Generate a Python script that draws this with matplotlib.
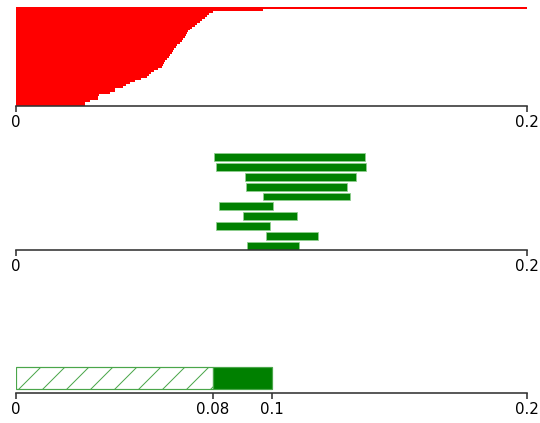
import matplotlib
matplotlib.use('Agg')
import matplotlib.pyplot as plt

# top panel: sorted values (bottom to top)
sorted_vals = [0.027, 0.027, 0.029, 0.0321, 0.0321, 0.0325, 0.0368, 0.0388, 0.0388, 0.042,
               0.043, 0.0446, 0.0466, 0.049, 0.0512, 0.052, 0.053, 0.054, 0.0556, 0.057,
               0.0576, 0.058, 0.0585, 0.059, 0.0597, 0.0603, 0.061, 0.0615, 0.062, 0.0625,
               0.063, 0.064, 0.065, 0.0655, 0.066, 0.0665, 0.0669, 0.0675, 0.0681, 0.069,
               0.070, 0.0708, 0.072, 0.0728, 0.074, 0.0747, 0.0755, 0.0771, 0.0967, 0.22]

# middle panel: intervals (top to bottom)
iv_lo = [0.0775, 0.0783, 0.0896, 0.0900, 0.0967, 0.0795, 0.0888, 0.0783, 0.0978, 0.0904]
iv_hi = [0.1366, 0.1370, 0.1331, 0.1295, 0.1307, 0.1006, 0.1100, 0.0994, 0.1182, 0.1108]

# bottom panel
base_val = 0.0771
total_val = 0.1

DPI = 72
plt.rcParams['hatch.linewidth'] = 1.0

fig, axes = plt.subplots(3, 1, figsize=(540 / DPI, 423 / DPI), dpi=DPI)
fig.subplots_adjust(left=0.0296, right=0.976, top=0.9835, bottom=0.0709, hspace=0.445)

for ax in axes:
    for s in ['left', 'right', 'top']:
        ax.spines[s].set_visible(False)
    ax.spines['bottom'].set_color('#333333')
    ax.spines['bottom'].set_linewidth(1.6)
    ax.set_yticks([])
    ax.set_xlim(0, 0.2)
    ax.tick_params(axis='x', colors='#333333', labelsize=15, length=5.5, width=1.6,
                   labelcolor='black')

ax1, ax2, ax3 = axes

ax1.barh(range(len(sorted_vals)), sorted_vals, height=1.0, color='red', linewidth=0)
ax1.set_ylim(-0.5, 49.3)
ax1.set_xticks([0, 0.2])
ax1.set_xticklabels(['0', '0.2'])

n = len(iv_lo)
ys = [n - 1 - i for i in range(n)]
widths = [h - l for l, h in zip(iv_lo, iv_hi)]
ax2.barh(ys, widths, left=iv_lo, height=0.8, color='green', edgecolor='#8fcf8f', linewidth=0.8)
ax2.set_ylim(-0.4, 9.7)
ax2.set_xticks([0, 0.2])
ax2.set_xticklabels(['0', '0.2'])

ax3.barh([0.7], [base_val], height=1.0, color='white', edgecolor='#4aa64a', hatch='/', linewidth=1.2)
ax3.barh([0.7], [total_val - base_val], left=[base_val], height=1.0, color='green',
         edgecolor='#4aa64a', linewidth=1.2)
ax3.set_ylim(0, 4.5)
ax3.set_xticks([0, base_val, total_val, 0.2])
ax3.set_xticklabels(['0', '0.08', '0.1', '0.2'])

fig.savefig('out.png', dpi=DPI)
